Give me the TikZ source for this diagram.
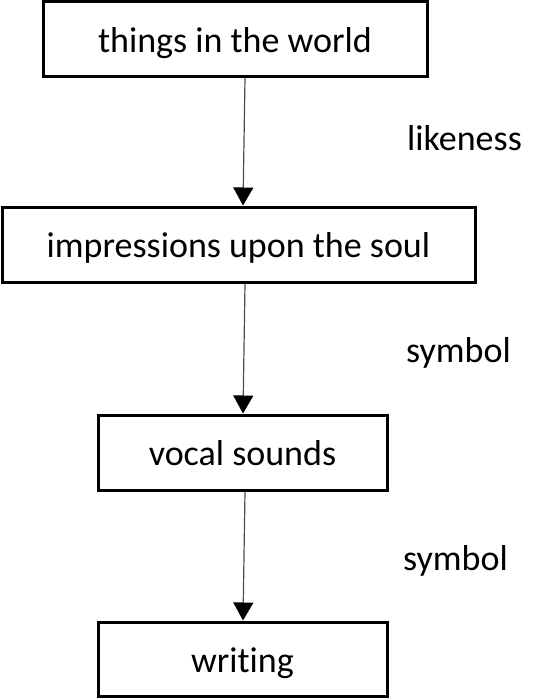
\documentclass[tikz,border=0pt]{standalone}
\usepackage{fontspec}
\setmainfont[Ligatures={NoCommon}]{Carlito}
\usetikzlibrary{arrows.meta}
\begin{document}
\begin{tikzpicture}[x=1pt,y=-1pt,
  box/.style={draw=black,line width=3pt,inner sep=0pt,font=\fontsize{36}{40}\selectfont,text height=30pt,text depth=4pt},
  conn/.style={draw=black!70,line width=1.2pt,-{Triangle[length=18pt,width=20pt,color=black,fill=black]}},
  lbl/.style={font=\fontsize{36}{40}\selectfont,inner sep=0pt,anchor=base west}]
\useasboundingbox (0,0) rectangle (538,699);
\node[box,minimum width=384pt,minimum height=75pt] (a) at (235,39) {things in the world};
\node[box,minimum width=473pt,minimum height=75pt] (b) at (238.5,244.5) {impressions upon the soul};
\node[box,minimum width=289pt,minimum height=75pt] (c) at (242.5,452.5) {vocal sounds};
\node[box,minimum width=289pt,minimum height=74pt] (d) at (242.5,659) {writing};
\draw[conn] (a.south -| 245,0) -- (b.north -| 243,0);
\draw[conn] (b.south -| 245,0) -- (c.north -| 243,0);
\draw[conn] (c.south -| 245,0) -- (d.north -| 243,0);
\node[lbl] (l1) at (407,150) {likeness};
\node[lbl] (l2) at (406,362) {symbol};
\node[lbl] (l3) at (403,570) {symbol};
\end{tikzpicture}
\end{document}
